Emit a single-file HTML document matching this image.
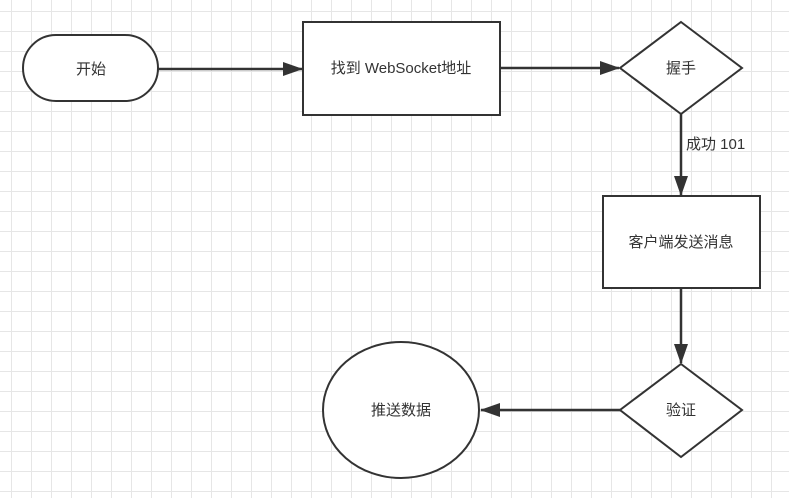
<!DOCTYPE html>
<html><head><meta charset="utf-8"><style>
html,body{margin:0;padding:0;}
body{width:789px;height:498px;overflow:hidden;background-color:#fff;
background-image:linear-gradient(#e6e6e6 1px,transparent 1px),linear-gradient(90deg,#e6e6e6 1px,transparent 1px);
background-size:20px 20px;background-position:11px 11px;}
svg{position:absolute;left:0;top:0;}
text{font-family:"Liberation Sans","Noto Sans CJK SC",sans-serif;font-size:15px;fill:#333;}
</style></head><body>
<svg width="789" height="498" viewBox="0 0 789 498">
<defs>
<marker id="b" markerWidth="20" markerHeight="14" refX="19" refY="7" orient="auto" markerUnits="userSpaceOnUse" viewBox="0 0 20 14"><path d="M0,0 L20,7 L0,14 Z" fill="#333"/></marker></defs>
<g stroke="#333" stroke-width="2" fill="#fff">
<rect x="23" y="35" width="135" height="66" rx="33" ry="33"/>
<rect x="303" y="22" width="197" height="93"/>
<polygon points="681,22 742,68 681,114 620,68"/>
<rect x="603" y="196" width="157" height="92"/>
<polygon points="681,364 742,410 681,457 620,410"/>
<ellipse cx="401" cy="410" rx="78" ry="68"/>
</g>
<g stroke="#333" stroke-width="2.5" fill="none">
<line x1="158" y1="69" x2="302" y2="69" marker-end="url(#b)"/>
<line x1="500" y1="68" x2="619" y2="68" marker-end="url(#b)"/>
<line x1="681" y1="114" x2="681" y2="195" marker-end="url(#b)"/>
<line x1="681" y1="288" x2="681" y2="363" marker-end="url(#b)"/>
<line x1="620" y1="410" x2="481" y2="410" marker-end="url(#b)"/>
</g>
<text x="91" y="74" text-anchor="middle">开始</text>
<text x="401" y="73" text-anchor="middle">找到 WebSocket地址</text>
<text x="681" y="73" text-anchor="middle">握手</text>
<text x="686" y="149">成功 101</text>
<text x="681" y="247" text-anchor="middle">客户端发送消息</text>
<text x="681" y="415" text-anchor="middle">验证</text>
<text x="401" y="415" text-anchor="middle">推送数据</text>
</svg>
</body></html>
